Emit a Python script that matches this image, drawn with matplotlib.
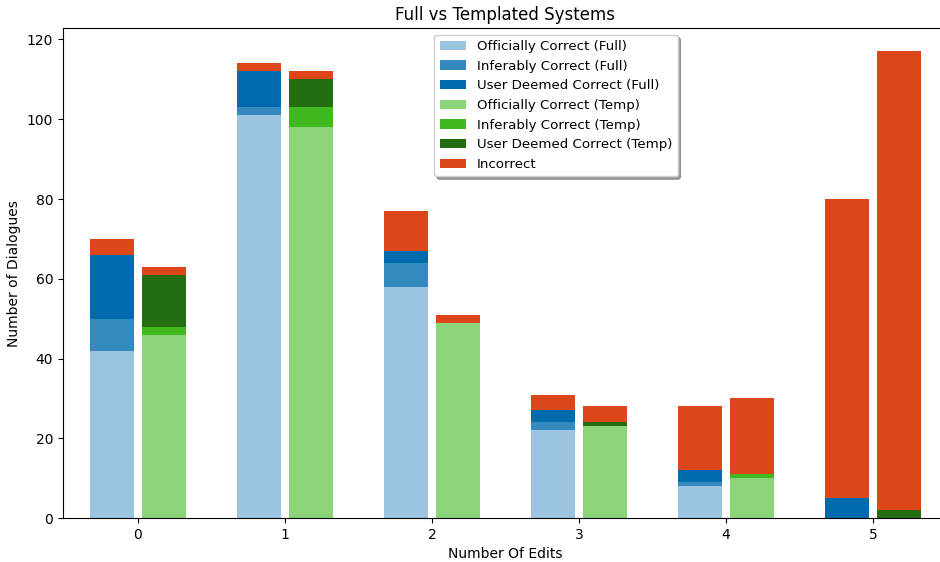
import numpy as np
import matplotlib
matplotlib.use("Agg")
import matplotlib.pyplot as plt

# Data
edits = [0, 1, 2, 3, 4, 5]

full_official = [42, 101, 58, 22, 8, 0]
full_inferable = [8, 2, 6, 2, 1, 0]
full_user = [16, 9, 3, 3, 3, 5]
full_incorrect = [4, 2, 10, 4, 16, 75]

temp_official = [46, 98, 49, 23, 10, 0]
temp_inferable = [2, 5, 0, 0, 1, 0]
temp_user = [13, 7, 0, 1, 0, 2]
temp_incorrect = [2, 2, 2, 4, 19, 115]

colors = {
    "full_official": "#9AC4E0",
    "full_inferable": "#348ABF",
    "full_user": "#006BAC",
    "temp_official": "#8BD578",
    "temp_inferable": "#40B81F",
    "temp_user": "#246E12",
    "incorrect": "#DD451A",
}

x = np.array(edits)
width = 0.3
offset = 0.175

fig = plt.figure(figsize=(9.4, 5.62), dpi=100)
ax = fig.add_axes([0.067, 0.078, 0.9415, 0.872])

# Full system bars
b1 = np.array(full_official)
b2 = b1 + np.array(full_inferable)
b3 = b2 + np.array(full_user)
ax.bar(x - offset, full_official, width, color=colors["full_official"], label="Officially Correct (Full)")
ax.bar(x - offset, full_inferable, width, bottom=b1, color=colors["full_inferable"], label="Inferably Correct (Full)")
ax.bar(x - offset, full_user, width, bottom=b2, color=colors["full_user"], label="User Deemed Correct (Full)")
ax.bar(x - offset, full_incorrect, width, bottom=b3, color=colors["incorrect"])

# Templated system bars
t1 = np.array(temp_official)
t2 = t1 + np.array(temp_inferable)
t3 = t2 + np.array(temp_user)
ax.bar(x + offset, temp_official, width, color=colors["temp_official"], label="Officially Correct (Temp)")
ax.bar(x + offset, temp_inferable, width, bottom=t1, color=colors["temp_inferable"], label="Inferably Correct (Temp)")
ax.bar(x + offset, temp_user, width, bottom=t2, color=colors["temp_user"], label="User Deemed Correct (Temp)")
ax.bar(x + offset, temp_incorrect, width, bottom=t3, color=colors["incorrect"], label="Incorrect")

ax.set_xticks(x)
ax.set_xlim(-0.51, 5.51)
ax.set_title("Full vs Templated Systems")
ax.set_xlabel("Number Of Edits")
ax.set_ylabel("Number of Dialogues")
ax.legend(loc="upper center", bbox_to_anchor=(0.557, 1.0), shadow=True, fancybox=True,
          fontsize=9.6)

fig.savefig("out.png", dpi=100)
